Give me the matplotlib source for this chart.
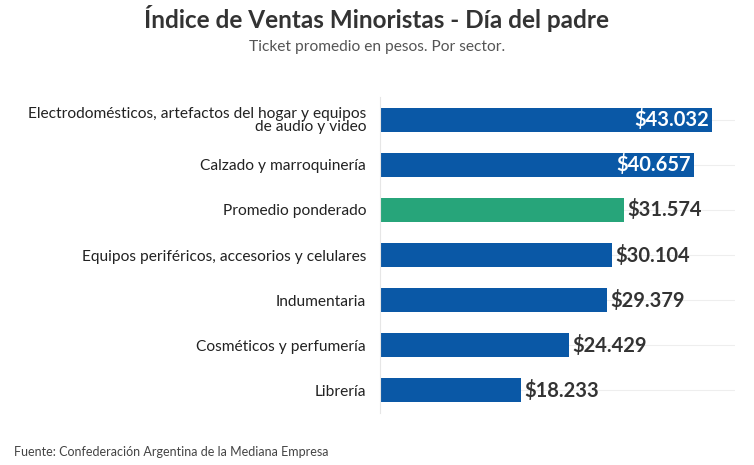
import matplotlib.pyplot as plt

plt.rcParams['font.family'] = ['Lato', 'DejaVu Sans']

sectores = ["Electrodomésticos, artefactos del hogar y equipos\nde audio y video",
            "Calzado y marroquinería",
            "Promedio ponderado",
            "Equipos periféricos, accesorios y celulares",
            "Indumentaria",
            "Cosméticos y perfumería",
            "Librería"]
ticket = [43032, 40657, 31574, 30104, 29379, 24429, 18233]
etiquetas = ["$43.032", "$40.657", "$31.574", "$30.104", "$29.379", "$24.429", "$18.233"]
colores = ["#0a58a6", "#0a58a6", "#27a57a", "#0a58a6", "#0a58a6", "#0a58a6", "#0a58a6"]
dentro = [True, True, False, False, False, False, False]

fig = plt.figure(figsize=(7.54, 4.65), dpi=100)
fig.patch.set_facecolor("white")
ax = fig.add_axes([380/754, 1-413/465, 355/754, (413-97)/465])

y = list(range(len(sectores)))
for i in y:
    ax.axhline(i, color="#eeeeee", lw=0.8, zorder=0)
ax.barh(y, ticket, height=0.53, color=colores, zorder=2)

for i, v in enumerate(ticket):
    if dentro[i]:
        ax.text(v - 400, i, etiquetas[i], ha="right", va="center", color="white",
                fontsize=14.5, fontweight="bold")
    else:
        ax.text(v + 450, i, etiquetas[i], ha="left", va="center", color="#333333",
                fontsize=14.5, fontweight="bold")

ax.set_yticks(y)
ax.set_yticklabels(sectores, fontsize=11.2, color="#222222", multialignment="right",
                   linespacing=0.9)
ax.tick_params(axis="y", length=0, pad=10)
ax.set_xticks([])
ax.set_xlim(0, 46000)
ax.set_ylim(len(sectores) - 0.5, -0.5)
for s in ["top", "right", "bottom"]:
    ax.spines[s].set_visible(False)
ax.spines["left"].set_color("#e6e6e6")

fig.text(377/754, 1-19/465, "Índice de Ventas Minoristas - Día del padre", ha="center",
         va="center", fontsize=17.5, fontweight="bold", color="#333333")
fig.text(377/754, 1-47/465, "Ticket promedio en pesos. Por sector.", ha="center",
         va="center", fontsize=11.2, color="#555555")
fig.text(14/754, 1-452/465, "Fuente: Confederación Argentina de la Mediana Empresa",
         ha="left", va="center", fontsize=9, color="#444444")

fig.savefig("out.png", dpi=100)
